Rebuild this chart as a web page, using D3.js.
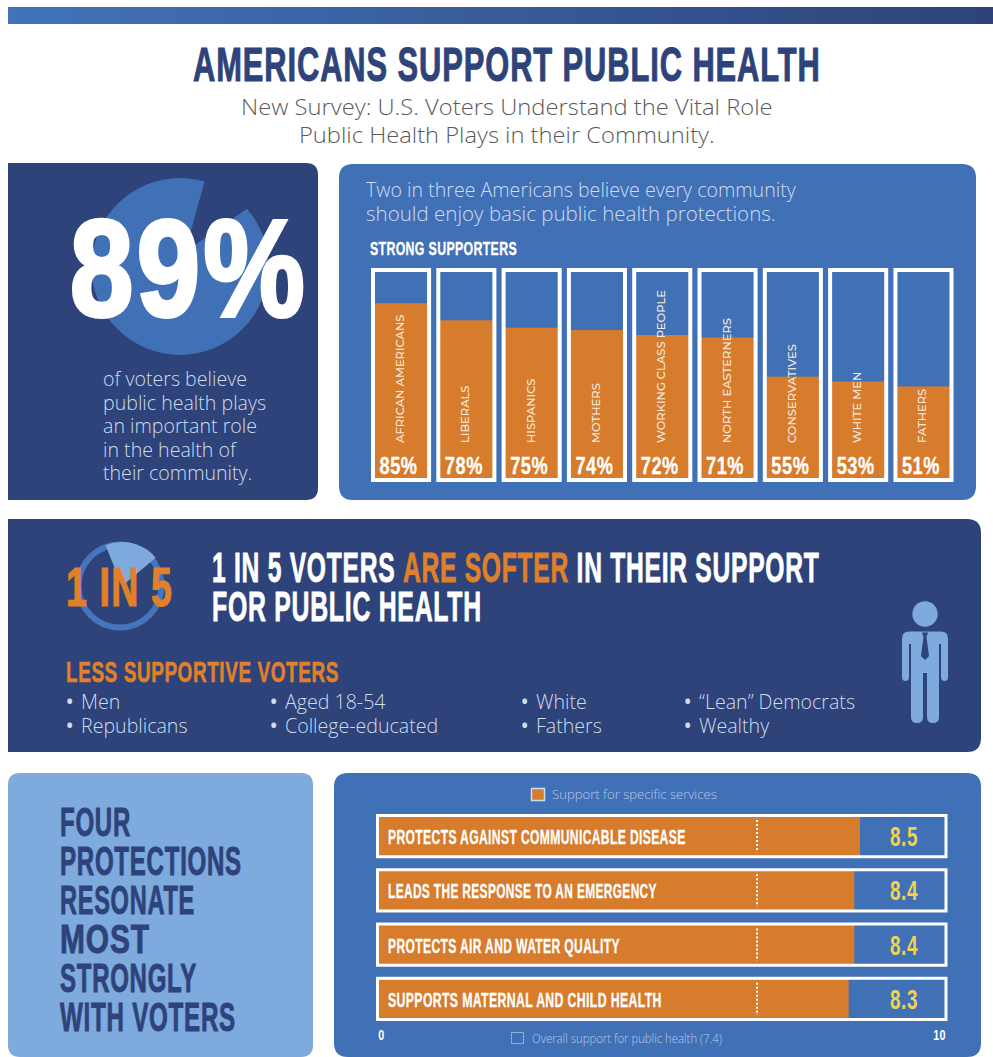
<!DOCTYPE html>
<html>
<head>
<meta charset="utf-8">
<title>Americans Support Public Health</title>
<script src="https://cdn.jsdelivr.net/npm/d3@7/dist/d3.min.js"></script>
<style>
  html, body { margin: 0; padding: 0; background: #fff; }
  svg { display: block; }
  .cond { font-family: "Liberation Sans Narrow", "Liberation Sans", sans-serif; font-weight: 700; letter-spacing: 0.03em; }
  .light { font-family: "Open Sans", "Noto Sans", sans-serif; font-weight: 300; }
</style>
</head>
<body>
<svg id="chart" width="993" height="1057" xmlns="http://www.w3.org/2000/svg"></svg>
<script>
// Survey figures
const headlineShare = 89;
const softerShare = 1 / 5;
const supporterGroups = ["African Americans", "Liberals", "Hispanics", "Mothers", "Working Class People", "North Easterners", "Conservatives", "White Men", "Fathers"];
const supporterValues = [85, 78, 75, 74, 72, 71, 55, 53, 51];
const serviceNames = ["Protects against communicable disease", "Leads the response to an emergency", "Protects air and water quality", "Supports maternal and child health"];
const serviceScores = [8.5, 8.4, 8.4, 8.3];
const serviceLabelWidths = [298, 269, 232, 274];
const overallScore = 7.4;
const scoreTicks = [0, 10];

const softerList = [
  ["Men", "Republicans"],
  ["Aged 18-54", "College-educated"],
  ["White", "Fathers"],
  ["\u201CLean\u201D Democrats", "Wealthy"]
];
const softerColumns = [66, 270, 521, 684];
const protectionLines = ["FOUR", "PROTECTIONS", "RESONATE", "MOST", "STRONGLY", "WITH VOTERS"];
const protectionWidths = [71, 182, 135, 90, 137, 176];

const NAVY = "#2d4379", BLUE = "#4070b6", SKY = "#7eaade", ORANGE = "#d77c2d", AMBER = "#e0812a", YELLOW = "#efd252", PALE = "#cfdcee";

const svg = d3.select("#chart");

// Place a text element and scale it horizontally to an exact run length
function fit(sel, x, y, width) {
  const natural = sel.node().getComputedTextLength();
  return sel.attr("transform", `translate(${x},${y}) scale(${width / natural},1)`);
}
function label(x, y, str, size, fill, cls, width) {
  const t = svg.append("text").attr("class", cls)
    .attr("font-size", size).attr("fill", fill).text(str);
  return width ? fit(t, x, y, width) : t.attr("x", x).attr("y", y);
}
// Panel whose left corners can stay square against the page edge
function panel(x, y, w, h, fill, r, squareLeft) {
  const path = squareLeft
    ? `M${x},${y}H${x + w - r}Q${x + w},${y} ${x + w},${y + r}V${y + h - r}Q${x + w},${y + h} ${x + w - r},${y + h}H${x}Z`
    : `M${x + r},${y}H${x + w - r}Q${x + w},${y} ${x + w},${y + r}V${y + h - r}Q${x + w},${y + h} ${x + w - r},${y + h}H${x + r}Q${x},${y + h} ${x},${y + h - r}V${y + r}Q${x},${y} ${x + r},${y}Z`;
  svg.append("path").attr("d", path).attr("fill", fill);
}

/* ---------- header ---------- */
const defs = svg.append("defs");
const grad = defs.append("linearGradient").attr("id", "band");
grad.append("stop").attr("offset", "0%").attr("stop-color", "#4273ba");
grad.append("stop").attr("offset", "100%").attr("stop-color", NAVY);
svg.append("rect").attr("x", 8).attr("y", 7).attr("width", 985).attr("height", 17).attr("fill", "url(#band)");

label(193, 81, "AMERICANS SUPPORT PUBLIC HEALTH", 47.5, NAVY, "cond", 628).attr("stroke", NAVY).attr("stroke-width", 1);
label(241, 115, "New Survey: U.S. Voters Understand the Vital Role", 21.5, "#5a5a5a", "light", 532);
label(299, 143, "Public Health Plays in their Community.", 21.5, "#5a5a5a", "light", 416);

/* ---------- 89% panel ---------- */
panel(8, 163, 310, 337, NAVY, 12, true);
defs.append("clipPath").attr("id", "disc").append("circle").attr("cx", 180).attr("cy", 266.5).attr("r", 89.5);
svg.append("circle").attr("cx", 180).attr("cy", 266.5).attr("r", 88.5).attr("fill", BLUE);
// Notch for the share that did not agree
const notchStart = 15.5 * Math.PI / 180;
svg.append("g").attr("clip-path", "url(#disc)").append("path")
  .attr("transform", "translate(185,252)")
  .attr("fill", NAVY)
  .attr("d", d3.arc()({
    innerRadius: 0, outerRadius: 110,
    startAngle: notchStart,
    endAngle: notchStart + (100 - headlineShare) / 100 * 2 * Math.PI
  }));
label(70, 316, headlineShare + "%", 137, "#fff", "cond", 238).attr("stroke", "#fff").attr("stroke-width", 4);

["of voters believe", "public health plays", "an important role", "in the health of", "their community."].forEach((s, i) => {
  label(103, 386 + i * 23.5, s, 19.6, PALE, "light");
});

/* ---------- strong supporters panel ---------- */
panel(339, 164, 637, 336, BLUE, 14, false);
label(366, 197, "Two in three Americans believe every community", 19.5, PALE, "light", 430);
label(366, 221, "should enjoy basic public health protections.", 19.5, PALE, "light", 410);
label(370, 255, "STRONG SUPPORTERS", 19, "#fff", "cond", 147).attr("stroke", "#fff").attr("stroke-width", 0.4);

const xGroup = d3.scaleBand().domain(supporterGroups).range([371, 953.5]).paddingInner(0.08);
const yShare = d3.scaleLinear().domain([0, 100]).range([511.4, 266.4]);
const boxTop = 268, boxBottom = 482, edge = 4;

const columns = svg.append("g").selectAll("g")
  .data(supporterGroups.map((g, i) => ({ g, v: supporterValues[i] })))
  .join("g")
  .attr("transform", d => `translate(${xGroup(d.g)},0)`);

columns.append("rect")
  .attr("x", edge / 2).attr("y", d => yShare(d.v))
  .attr("width", xGroup.bandwidth() - edge).attr("height", d => boxBottom - yShare(d.v) - edge / 2)
  .attr("fill", ORANGE);
columns.append("rect")
  .attr("x", edge / 2).attr("y", boxTop + edge / 2)
  .attr("width", xGroup.bandwidth() - edge).attr("height", boxBottom - boxTop - edge)
  .attr("fill", "none").attr("stroke", "#fff").attr("stroke-width", edge);
columns.append("text")
  .attr("transform", `translate(${xGroup.bandwidth() / 2 + 3},443) rotate(-90)`)
  .attr("font-family", "Montserrat, 'Open Sans', sans-serif").attr("font-size", 11.5)
  .attr("font-weight", 500)
  .attr("fill", "#f4e9de").text(d => d.g.toUpperCase());
columns.append("text")
  .attr("class", "cond").attr("text-anchor", "middle").attr("font-size", 23)
  .attr("fill", "#fff").attr("stroke", "#fff").attr("stroke-width", 0.3)
  .text(d => d.v + "%")
  .each(function () { fit(d3.select(this), xGroup.bandwidth() / 2 - 2.5, 473.5, 38); });

/* ---------- softer support band ---------- */
panel(8, 519, 973, 233, NAVY, 14, true);
svg.append("circle").attr("cx", 120).attr("cy", 586).attr("r", 41.5).attr("fill", "none")
  .attr("stroke", "#4575bb").attr("stroke-width", 6);
const wedgeStart = -22 * Math.PI / 180;
svg.append("path")
  .attr("transform", "translate(122,586)")
  .attr("fill", SKY)
  .attr("d", d3.arc()({
    innerRadius: 0, outerRadius: 44,
    startAngle: wedgeStart,
    endAngle: wedgeStart + softerShare * 2 * Math.PI
  }));
label(66, 606, "1 IN 5", 55, AMBER, "cond", 107).attr("stroke", AMBER).attr("stroke-width", 1.2);

const softerHead = svg.append("text").attr("class", "cond").attr("font-size", 42)
  .attr("fill", "#fff").attr("stroke", "#fff").attr("stroke-width", 0.8);
softerHead.append("tspan").text("1 IN 5 VOTERS ");
softerHead.append("tspan").attr("fill", AMBER).attr("stroke", AMBER).text("ARE SOFTER ");
softerHead.append("tspan").text("IN THEIR SUPPORT");
fit(softerHead, 212, 582, 607);
label(212, 621, "FOR PUBLIC HEALTH", 42, "#fff", "cond", 270).attr("stroke", "#fff").attr("stroke-width", 0.8);
label(66, 682, "LESS SUPPORTIVE VOTERS", 30, AMBER, "cond", 273).attr("stroke", AMBER).attr("stroke-width", 0.6);

softerList.forEach((col, c) => col.forEach((s, r) => {
  const x = softerColumns[c], y = 709 + r * 24;
  const item = label(x, y, "", 19.6, PALE, "light");
  item.append("tspan").attr("font-weight", 600).text("\u2022");
  item.append("tspan").attr("x", x + 15).text(s);
}));

// Standing figure in a tie
const person = svg.append("g").attr("transform", "translate(925,0)").attr("fill", SKY);
person.append("circle").attr("cy", 614).attr("r", 12.7);
person.append("path").attr("d",
  "M-16,631.5H16Q23,631.5 23,638.5V677Q23,681 19.5,681Q16,681 16,677V644H14V717Q14,723 8,723Q2,723 2,717V673H-2V717Q-2,723 -8,723Q-14,723 -14,717V644H-16V677Q-16,681 -19.5,681Q-23,681 -23,677V638.5Q-23,631.5 -16,631.5Z");
person.append("path").attr("fill", NAVY).attr("d", "M-3,632.5H3L1.5,637L4,656L0,660L-4,656L-1.5,637Z");

/* ---------- protections ---------- */
panel(8, 773, 305, 284, SKY, 12, false);
protectionLines.forEach((s, i) => {
  label(60, 836 + i * 39, s, 41, NAVY, "cond", protectionWidths[i]).attr("stroke", NAVY).attr("stroke-width", 0.9);
});

panel(334, 773, 647, 284, BLUE, 14, false);

const xScore = d3.scaleLinear().domain([0, 10]).range([378, 945]);
// The dotted marker runs on its own span across the bars
const xOverall = d3.scaleLinear().domain([0, 10]).range([378, 890.2]);
const yService = d3.scaleBand().domain(serviceNames).range([814, 1021]).paddingInner(0.185);
const rowH = yService.bandwidth();

const rows = svg.append("g").selectAll("g")
  .data(serviceNames.map((n, i) => ({ n, v: serviceScores[i], w: serviceLabelWidths[i] })))
  .join("g")
  .attr("transform", d => `translate(0,${yService(d.n)})`);

rows.append("rect").attr("x", xScore(0)).attr("y", 2)
  .attr("width", d => xScore(d.v) - xScore(0)).attr("height", rowH - 4).attr("fill", ORANGE);
rows.append("rect").attr("x", 377.5).attr("y", 1.5)
  .attr("width", 568.5).attr("height", rowH - 3)
  .attr("fill", "none").attr("stroke", "#fff").attr("stroke-width", 3);
rows.append("line")
  .attr("x1", xOverall(overallScore)).attr("x2", xOverall(overallScore))
  .attr("y1", 6).attr("y2", rowH - 6)
  .attr("stroke", "#fff").attr("stroke-width", 2).attr("stroke-dasharray", "2 2");
rows.append("text").attr("class", "cond")
  .attr("font-size", 20).attr("fill", "#fff").attr("stroke", "#fff").attr("stroke-width", 0.3)
  .text(d => d.n.toUpperCase())
  .each(function (d) { fit(d3.select(this), 388, rowH / 2 + 8, d.w); });
rows.append("text").attr("class", "cond")
  .attr("text-anchor", "middle").attr("font-size", 28).attr("fill", YELLOW)
  .text(d => d.v.toFixed(1))
  .each(function () { fit(d3.select(this), 904, rowH / 2 + 10, 28); });

// Score axis: only the two end values are labelled
const scoreAxis = svg.append("g").attr("transform", "translate(0,1028)")
  .call(d3.axisBottom(xScore).tickValues(scoreTicks).tickSize(0).tickFormat(d3.format("d")));
scoreAxis.select(".domain").remove();
scoreAxis.selectAll("text")
  .attr("class", "cond").attr("font-size", 15).attr("fill", "#fff")
  .attr("dy", 0).attr("y", 0).attr("x", 0)
  .attr("transform", d => `translate(${d === 0 ? 3 : -6},12) scale(0.72,1)`);

// Legends
svg.append("rect").attr("x", 531.5).attr("y", 788.5).attr("width", 13).attr("height", 12)
  .attr("fill", ORANGE).attr("stroke", PALE).attr("stroke-width", 1.5);
label(552, 799, "Support for specific services", 12.5, "#b9cce6", "light", 165);
svg.append("rect").attr("x", 511.5).attr("y", 1032.5).attr("width", 12).attr("height", 11)
  .attr("fill", "none").attr("stroke", "#b9cce6").attr("stroke-width", 1).attr("stroke-dasharray", "2 1");
label(532, 1043, "Overall support for public health (" + overallScore + ")", 12.5, "#b9cce6", "light", 190);
</script>
</body>
</html>
